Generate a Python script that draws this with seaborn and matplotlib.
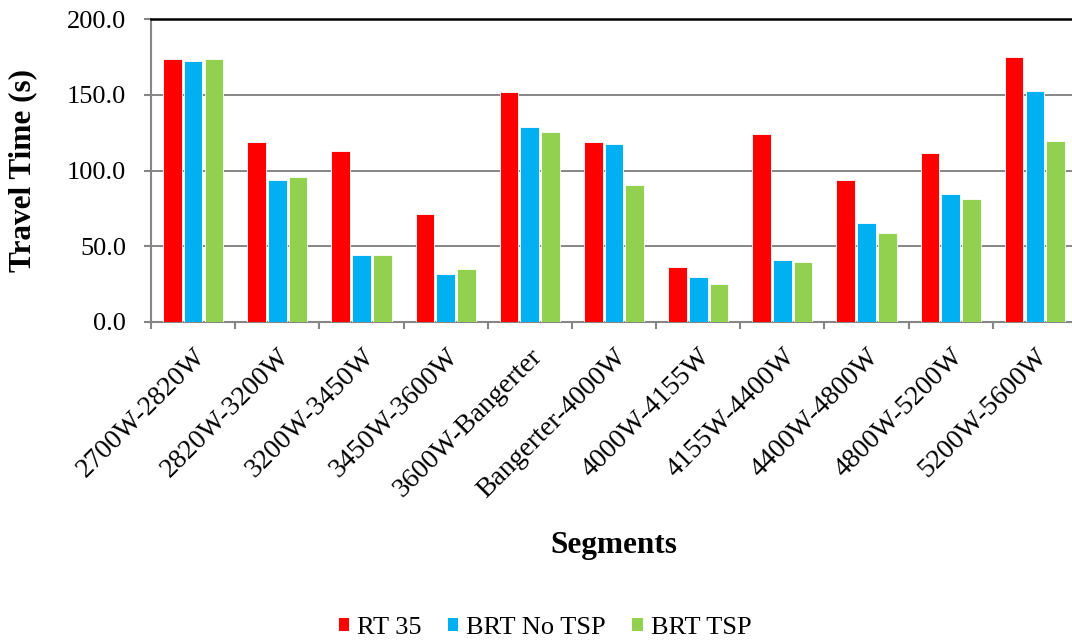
import numpy as np
import pandas as pd
import seaborn as sns
import matplotlib.pyplot as plt
from matplotlib.ticker import FixedLocator, FormatStrFormatter
from matplotlib.patches import Patch

segments = ["2700W-2820W", "2820W-3200W", "3200W-3450W", "3450W-3600W",
            "3600W-Bangerter", "Bangerter-4000W", "4000W-4155W", "4155W-4400W",
            "4400W-4800W", "4800W-5200W", "5200W-5600W"]
rt35 = [173.5, 119.0, 112.7, 71.4, 151.5, 119.0, 36.4, 124.1, 93.7, 111.4, 175.1]
brt_no_tsp = [172.0, 93.7, 44.1, 31.5, 129.0, 117.7, 30.0, 41.2, 65.1, 84.3, 152.8]
brt_tsp = [173.5, 95.5, 44.1, 34.8, 125.7, 90.4, 25.1, 39.5, 58.7, 81.0, 119.3]
series_names = ["RT 35", "BRT No TSP", "BRT TSP"]
colors = ["#FF0000", "#00B0F0", "#92D050"]

df = pd.DataFrame({
    "Segment": segments * 3,
    "Series": np.repeat(series_names, len(segments)),
    "Travel Time": rt35 + brt_no_tsp + brt_tsp,
})

sns.set_theme(style="white")
plt.rcParams["font.family"] = ["Liberation Serif", "DejaVu Serif"]
plt.rcParams["text.color"] = "black"
plt.rcParams["axes.labelcolor"] = "black"
plt.rcParams["xtick.labelcolor"] = "black"
plt.rcParams["ytick.labelcolor"] = "black"

W, H = 1072, 644
fig = plt.figure(figsize=(W / 100, H / 100), dpi=100)
ax = fig.add_axes([151 / W, (H - 322) / H, 926 / W, 303 / H])

sns.barplot(data=df, x="Segment", y="Travel Time", hue="Series",
            palette=colors, order=segments, hue_order=series_names,
            width=0.74, gap=0.1, edgecolor="white", linewidth=0.6,
            saturation=1, legend=False, ax=ax, zorder=3)

grid_gray = "#868686"
ax.set_xlim(-0.5, len(segments) - 0.5)
ax.set_ylim(0, 200)
ax.yaxis.set_major_locator(FixedLocator([0, 50, 100, 150, 200]))
ax.yaxis.set_major_formatter(FormatStrFormatter("%.1f"))
for yv in [50, 100, 150]:
    ax.axhline(yv, color=grid_gray, lw=1.4, zorder=1)

for side in ["left", "bottom"]:
    ax.spines[side].set_color(grid_gray)
    ax.spines[side].set_linewidth(1.5)
ax.spines["top"].set_color("black")
ax.spines["top"].set_linewidth(1.8)
ax.spines["right"].set_visible(False)

ax.tick_params(axis="y", direction="out", length=5, width=1.5, color=grid_gray,
               labelsize=19, pad=13, left=True, labelcolor="black")
ax.set_xticks(range(len(segments)))
ax.set_xticklabels(segments, rotation=45, ha="right", rotation_mode="anchor",
                   fontsize=20, color="black")
ax.tick_params(axis="x", which="major", length=0, pad=16)
ax.set_xticks(np.arange(-0.5, len(segments), 1.0), minor=True)
ax.tick_params(axis="x", which="minor", direction="out", length=5, width=1.5,
               color=grid_gray, bottom=True)

ax.set_ylabel("Travel Time (s)", fontsize=22.5, fontweight="bold", va="center",
              color="black")
ax.yaxis.set_label_coords((23 - 151) / 926, 0.5)
ax.set_xlabel("Segments", fontsize=22.5, fontweight="bold", va="center",
              color="black")
ax.xaxis.set_label_coords(0.5, -(545 - 322) / 303)

handles = [Patch(facecolor=c, edgecolor="none", label=n) for c, n in zip(colors, series_names)]
leg = fig.legend(handles=handles, loc="center", bbox_to_anchor=(545 / W, (H - 628) / H),
                 ncol=3, frameon=False, fontsize=19, handlelength=0.4, handleheight=0.4,
                 handletextpad=0.3, columnspacing=1.0, borderaxespad=0)
for t in leg.get_texts():
    t.set_color("black")

fig.savefig("out.png", dpi=100)
